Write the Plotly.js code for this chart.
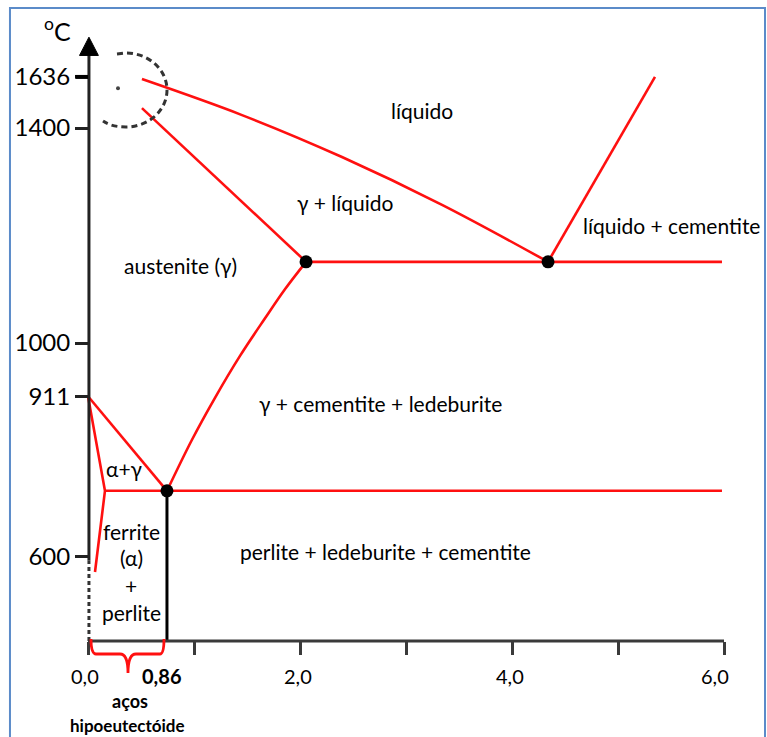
<!DOCTYPE html>
<html><head><meta charset="utf-8">
<script src="https://cdn.plot.ly/plotly-3.0.1.min.js"></script>
<style>html,body{margin:0;padding:0;background:#fff}#chart{width:767px;height:737px}</style>
</head><body><div id="chart"></div>
<script>
// Schematic Fe–C diagram. x = % carbon, y = temperature (°C) on the drawing's scale.
const liquidusC = [0.509, 1.453, 2.396, 3.340, 4.340];
const liquidusT = [1491, 1424, 1346, 1257, 1151];
const solidusC = [0.509, 2.057];
const solidusT = [1437, 1151];
const eutecticC = [2.057, 5.981];
const eutecticT = [1151, 1151];
const cementiteLiqC = [4.340, 5.349];
const cementiteLiqT = [1151, 1495];
const acmC = [2.057, 1.858, 1.670, 1.434, 1.198, 0.981, 0.745];
const acmT = [1151, 1100, 1046, 976, 898, 820, 725];
const eutectoidC = [0.160, 5.981];
const eutectoidT = [725, 725];
const a3C = [0, 0.745];
const a3T = [901, 725];
const ferriteC = [0, 0.160, 0.066];
const ferriteT = [901, 725, 574];
const steelLimitC = [0.745, 0.745];
const steelLimitT = [725, 445.6];
const pointC = [2.057, 4.340, 0.745];
const pointT = [1151, 1151, 725];
const highlightC = [0.283];
const highlightT = [1474];

const yTickVals = [602, 901, 1000, 1400, 1495];
const yTickText = ['600', '911', '1000', '1400', '1636'];
const xTickVals = [0, 1, 2, 3, 4, 5, 6];
const xLabelPos = [-0.028, 0.698, 1.981, 3.981, 5.915];
const xLabelText = ['0,0', '<b>0,86</b>', '2,0', '4,0', '6,0'];

const regionText = ['líquido', 'γ + líquido', 'líquido + cementite', 'austenite (γ)',
  'γ + cementite + ledeburite', 'α+γ', 'ferrite', '(α)', '+', 'perlite',
  'perlite + ledeburite + cementite'];
const regionC = [3.151, 2.425, 5.509, 0.877, 2.755, 0.340, 0.406, 0.406, 0.406, 0.406, 2.802];
const regionT = [1433, 1262, 1219, 1145, 888, 767, 650, 600, 548, 499, 613];

const RED = '#ff1010';
const FONT = 'Lato, "Open Sans", sans-serif';
const axisBottom = 445.6;

function redLine(x, y, shape) {
  return {x: x, y: y, type: 'scatter', mode: 'lines', hoverinfo: 'skip', cliponaxis: false,
    line: {color: RED, width: 2.6, shape: shape || 'linear'}};
}

const traces = [
  redLine(liquidusC, liquidusT, 'spline'),
  redLine(solidusC, solidusT),
  redLine(eutecticC, eutecticT),
  redLine(cementiteLiqC, cementiteLiqT),
  redLine(acmC, acmT, 'spline'),
  redLine(eutectoidC, eutectoidT),
  redLine(a3C, a3T),
  redLine(ferriteC, ferriteT),
  {x: steelLimitC, y: steelLimitT, type: 'scatter', mode: 'lines', hoverinfo: 'skip',
    line: {color: '#000', width: 3}},
  {x: pointC, y: pointT, type: 'scatter', mode: 'markers', hoverinfo: 'skip', cliponaxis: false,
    marker: {color: '#000', size: 13}},
  {x: highlightC, y: highlightT, type: 'scatter', mode: 'markers', hoverinfo: 'skip',
    marker: {color: '#444', size: 4}}
];

const annotations = [];
regionText.forEach((t, i) => annotations.push({
  x: regionC[i], y: regionT[i], xref: 'x', yref: 'y', text: t, showarrow: false,
  xanchor: 'center', yanchor: 'middle', font: {family: FONT, size: 21, color: '#000'}
}));
xLabelText.forEach((t, i) => annotations.push({
  x: xLabelPos[i], y: 380, xref: 'x', yref: 'y', text: t, showarrow: false,
  xanchor: 'center', yanchor: 'middle', font: {family: FONT, size: 20, color: '#000'}
}));
annotations.push({x: 0.396, y: 334, xref: 'x', yref: 'y', text: '<b>aços</b>', showarrow: false,
  font: {family: FONT, size: 18, color: '#000'}});
annotations.push({x: 0.377, y: 288, xref: 'x', yref: 'y', text: '<b>hipoeutectóide</b>', showarrow: false,
  font: {family: FONT, size: 17, color: '#000'}});
annotations.push({x: -0.29, y: 1584, xref: 'x', yref: 'y', text: '<sup>o</sup>C', showarrow: false,
  font: {family: FONT, size: 25, color: '#000'}});

const shapes = [
  // frame
  {type: 'rect', xref: 'paper', yref: 'paper', x0: 0.013, x1: 0.9974, y0: -0.05, y1: 0.9892,
    line: {color: '#5b8bc9', width: 2}},
  // x axis line
  {type: 'line', xref: 'x', yref: 'y', x0: 0, x1: 6, y0: axisBottom, y1: axisBottom,
    line: {color: '#3a3a3a', width: 3}},
  // y axis solid part
  {type: 'line', xref: 'x', yref: 'y', x0: 0.009, x1: 0.009, y0: 596, y1: 1536,
    line: {color: '#222', width: 3}},
  // y axis dashed part
  {type: 'line', xref: 'x', yref: 'y', x0: 0.009, x1: 0.009, y0: axisBottom, y1: 596,
    line: {color: '#333', width: 3, dash: '4px,3px'}},
  // arrowhead
  {type: 'path', xref: 'x', yref: 'y', path: 'M -0.08,1535 L 0.098,1535 L 0.009,1569 Z',
    fillcolor: '#000', line: {color: '#000', width: 1}},
  // thicker 1636 tick
  {type: 'line', xref: 'x', yref: 'y', x0: -0.12, x1: 0, y0: 1495, y1: 1495,
    line: {color: '#000', width: 4}},
  // dashed circle highlight
  {type: 'path', xref: 'x', yref: 'y',
    path: 'M 0.2736,1537.7 L 0.3585,1539.5 C 0.5717,1539.5 0.7453,1508.7 0.7453,1470.7 ' +
          'C 0.7453,1432.8 0.5717,1401.9 0.3585,1401.9 C 0.2642,1401.9 0.1981,1405.6 0.1415,1413',
    line: {color: '#333', width: 3, dash: '6px,4px'}},
  // red brace
  {type: 'path', xref: 'x', yref: 'y',
    path: 'M 0.0283,449.3 Q 0.0283,421.4 0.0755,421.4 L 0.3019,421.4 Q 0.3774,421.4 0.3774,386 ' +
          'Q 0.3774,421.4 0.4528,421.4 L 0.6792,421.4 Q 0.717,421.4 0.717,449.3',
    line: {color: RED, width: 2.8}}
];

const layout = {
  width: 767, height: 737,
  margin: {l: 0, r: 0, t: 0, b: 0, pad: 0},
  paper_bgcolor: '#fff', plot_bgcolor: '#fff',
  showlegend: false,
  xaxis: {range: [-0.8302, 6.4057], anchor: 'free', position: 0.13026,
    showline: false, showgrid: false, zeroline: false, fixedrange: true,
    ticks: 'outside', tickvals: xTickVals, ticklen: 13, tickwidth: 3, tickcolor: '#3a3a3a',
    showticklabels: false},
  yaxis: {range: [266.96, 1638.15], anchor: 'free', position: 0.11473,
    showline: false, showgrid: false, zeroline: false, fixedrange: true,
    ticks: 'outside', tickvals: yTickVals, ticktext: yTickText, ticklen: 13, tickwidth: 3,
    tickcolor: '#222', tickfont: {family: FONT, size: 24, color: '#000'}},
  annotations: annotations,
  shapes: shapes
};

Plotly.newPlot('chart', traces, layout, {displayModeBar: false, staticPlot: true});
</script>
</body></html>
